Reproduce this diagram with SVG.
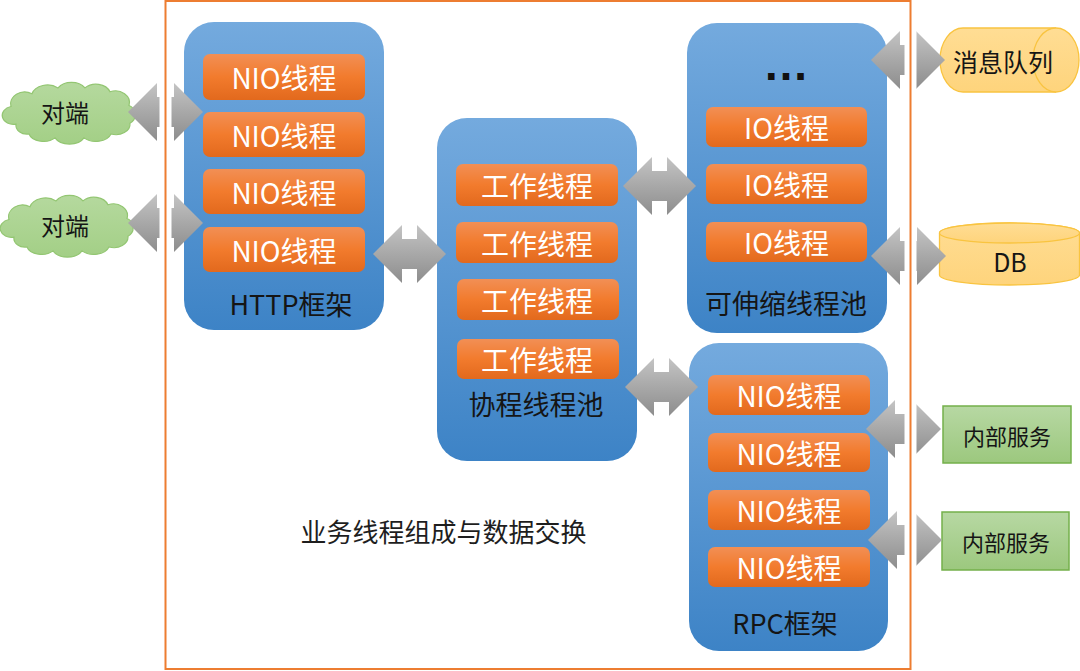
<svg xmlns="http://www.w3.org/2000/svg" width="1080" height="671" viewBox="0 0 1080 671">
<defs>
<linearGradient id="gBlue" x1="0" y1="0" x2="0" y2="1"><stop offset="0" stop-color="#74aade"/><stop offset="1" stop-color="#3d83c6"/></linearGradient>
<linearGradient id="gOrange" x1="0" y1="0" x2="0" y2="1"><stop offset="0" stop-color="#f28f55"/><stop offset="0.5" stop-color="#f27b2d"/><stop offset="1" stop-color="#e2691d"/></linearGradient>
<linearGradient id="gGray" x1="0" y1="0" x2="0" y2="1"><stop offset="0" stop-color="#c4c4c4"/><stop offset="0.5" stop-color="#a8a8a8"/><stop offset="1" stop-color="#8d8d8d"/></linearGradient>
<linearGradient id="gGreen" x1="0" y1="0" x2="0" y2="1"><stop offset="0" stop-color="#b7d8a3"/><stop offset="1" stop-color="#9cc87e"/></linearGradient>
<linearGradient id="gCloud" x1="0" y1="0" x2="0" y2="1"><stop offset="0" stop-color="#b5d99e"/><stop offset="1" stop-color="#a3cf86"/></linearGradient>
<linearGradient id="gYellow" x1="0" y1="0" x2="0" y2="1"><stop offset="0" stop-color="#ffdd94"/><stop offset="1" stop-color="#fed47c"/></linearGradient>
<path id="cloud" d="M 14,42 A 11,9 0 0 1 9,24 A 14,12 0 0 1 30,11 A 16,12 0 0 1 56,5 A 16,12 0 0 1 83,5 A 15,12 0 0 1 108,9 A 14,12 0 0 1 127,23 A 10,10 0 0 1 128,41 A 14,11 0 0 1 109,52 A 16,11 0 0 1 82,56 A 16,11 0 0 1 53,56 A 15,10 0 0 1 27,52 A 11,9 0 0 1 14,42 Z"/>
</defs>
<style>
.box{fill:url(#gBlue);}
.bar{fill:url(#gOrange);}
.arrow{fill:url(#gGray);}
.bt{font-family:"Noto Sans CJK SC","Noto Sans",sans-serif;font-size:28px;fill:#ffffff;text-anchor:middle;dominant-baseline:central;}
.lbl{font-family:"Noto Sans CJK SC","Noto Sans",sans-serif;font-size:27px;fill:#151515;text-anchor:middle;dominant-baseline:central;}
.sm{font-family:"Noto Sans CJK SC","Noto Sans",sans-serif;font-size:22px;fill:#151515;text-anchor:middle;dominant-baseline:central;}
.cl{font-family:"Noto Sans CJK SC","Noto Sans",sans-serif;font-size:24px;fill:#151515;text-anchor:middle;dominant-baseline:central;}
.md{font-family:"Noto Sans CJK SC","Noto Sans",sans-serif;font-size:25px;fill:#151515;text-anchor:middle;dominant-baseline:central;}
.cloud{fill:url(#gCloud);stroke:#93c672;stroke-width:1.2;}
.svc{fill:url(#gGreen);stroke:#74b04b;stroke-width:1.5;}
.cyl{fill:url(#gYellow);stroke:#f9c440;stroke-width:1.3;}
</style>

<g id="peer1"><use href="#cloud" class="cloud" transform="translate(2,83) scale(1,0.98)"/><text class="cl" x="65" y="111">对端</text></g>
<g id="peer2"><use href="#cloud" class="cloud" transform="translate(0,196) scale(1,0.98)"/><text class="cl" x="65" y="224">对端</text></g>

<g id="http">
<rect class="box" x="184" y="22" width="200" height="308" rx="30"/>
<rect class="bar" x="203" y="54" width="162" height="46" rx="7"/><text class="bt" x="284" y="77">NIO线程</text>
<rect class="bar" x="203" y="112" width="162" height="45" rx="7"/><text class="bt" x="284" y="134.5">NIO线程</text>
<rect class="bar" x="203" y="169" width="162" height="45" rx="7"/><text class="bt" x="284" y="191.5">NIO线程</text>
<rect class="bar" x="203" y="227" width="162" height="45" rx="7"/><text class="bt" x="284" y="249.5">NIO线程</text>
<text class="lbl" x="291" y="303">HTTP框架</text>
</g>

<g id="coroutine">
<rect class="box" x="437" y="118" width="200" height="343" rx="30"/>
<rect class="bar" x="456" y="164" width="162" height="42" rx="7"/><text class="bt" x="537" y="185">工作线程</text>
<rect class="bar" x="456" y="222" width="162" height="41" rx="7"/><text class="bt" x="537" y="242.5">工作线程</text>
<rect class="bar" x="457" y="279" width="162" height="41" rx="7"/><text class="bt" x="537" y="299.5">工作线程</text>
<rect class="bar" x="457" y="339" width="162" height="40" rx="7"/><text class="bt" x="537" y="359">工作线程</text>
<text class="lbl" x="536" y="403">协程线程池</text>
</g>

<g id="scalable">
<rect class="box" x="687" y="23" width="200" height="310" rx="30"/>
<text x="786" y="80" text-anchor="middle" font-family="Liberation Sans, sans-serif" font-size="46" font-weight="bold" fill="#111">…</text>
<rect class="bar" x="706" y="107" width="161" height="40" rx="7"/><text class="bt" x="786.5" y="127">IO线程</text>
<rect class="bar" x="706" y="164" width="161" height="40" rx="7"/><text class="bt" x="786.5" y="184">IO线程</text>
<rect class="bar" x="706" y="222" width="161" height="40" rx="7"/><text class="bt" x="786.5" y="242">IO线程</text>
<text class="lbl" x="786" y="302">可伸缩线程池</text>
</g>

<g id="rpc">
<rect class="box" x="689" y="343" width="199" height="308" rx="30"/>
<rect class="bar" x="708" y="375" width="162" height="40" rx="7"/><text class="bt" x="789" y="395">NIO线程</text>
<rect class="bar" x="708" y="433" width="162" height="39" rx="7"/><text class="bt" x="789" y="452.5">NIO线程</text>
<rect class="bar" x="708" y="490" width="162" height="40" rx="7"/><text class="bt" x="789" y="510">NIO线程</text>
<rect class="bar" x="708" y="547" width="162" height="40" rx="7"/><text class="bt" x="789" y="567">NIO线程</text>
<text class="lbl" x="785" y="622">RPC框架</text>
</g>

<g id="mq">
<path class="cyl" d="M 963,28 L 1056,28 A 23,32 0 0 1 1056,92 L 963,92 A 23,32 0 0 1 963,28 Z"/>
<path class="cyl" fill="none" d="M 1056,28 A 23,32 0 0 0 1056,92"/>
<text class="md" x="1003" y="61">消息队列</text>
</g>

<g id="db">
<path class="cyl" d="M 939.5,233 A 70,10 0 0 1 1079.5,233 L 1079.5,275 A 70,10 0 0 1 939.5,275 Z"/>
<ellipse class="cyl" cx="1009.5" cy="233" rx="70" ry="10"/>
<text class="md" x="1010" y="261">DB</text>
</g>

<g id="svc1"><rect class="svc" x="943" y="406" width="128" height="57"/><text class="sm" x="1007" y="435">内部服务</text></g>
<g id="svc2"><rect class="svc" x="942" y="512" width="127" height="58"/><text class="sm" x="1006" y="541">内部服务</text></g>

<g id="connectors">
<path class="arrow" d="M128,112 L157,83 L157,97 L174,97 L174,83 L203,112 L174,141 L174,127 L157,127 L157,141 Z"/>
<path class="arrow" d="M128,223 L157,194 L157,208 L174,208 L174,194 L203,223 L174,252 L174,238 L157,238 L157,252 Z"/>
<path class="arrow" d="M373,254 L402,225 L402,239 L417,239 L417,225 L446,254 L417,283 L417,269 L402,269 L402,283 Z"/>
<path class="arrow" d="M623,186 L652,157 L652,171 L667,171 L667,157 L696,186 L667,215 L667,201 L652,201 L652,215 Z"/>
<path class="arrow" d="M625,387 L654,358 L654,372 L669,372 L669,358 L698,387 L669,416 L669,402 L654,402 L654,416 Z"/>
<path class="arrow" d="M871,60 L900,31 L900,45 L916,45 L916,31 L945,60 L916,89 L916,75 L900,75 L900,89 Z"/>
<path class="arrow" d="M871,256 L900,227 L900,241 L917,241 L917,227 L946,256 L917,285 L917,271 L900,271 L900,285 Z"/>
<path class="arrow" d="M866,429 L895,400 L895,414 L912,414 L912,400 L941,429 L912,458 L912,444 L895,444 L895,458 Z"/>
<path class="arrow" d="M868,540 L897,511 L897,525 L913,525 L913,511 L942,540 L913,569 L913,555 L897,555 L897,569 Z"/>
</g>

<rect x="165.5" y="1" width="745" height="668" fill="none" stroke="#ffffff" stroke-width="12"/>
<rect x="165.5" y="1" width="745" height="668" fill="none" stroke="#ed7d31" stroke-width="2"/>

<text x="443.5" y="530" text-anchor="middle" dominant-baseline="central" font-family="Noto Sans CJK SC, Noto Sans, sans-serif" font-size="26" fill="#1e1e1e">业务线程组成与数据交换</text>
</svg>
